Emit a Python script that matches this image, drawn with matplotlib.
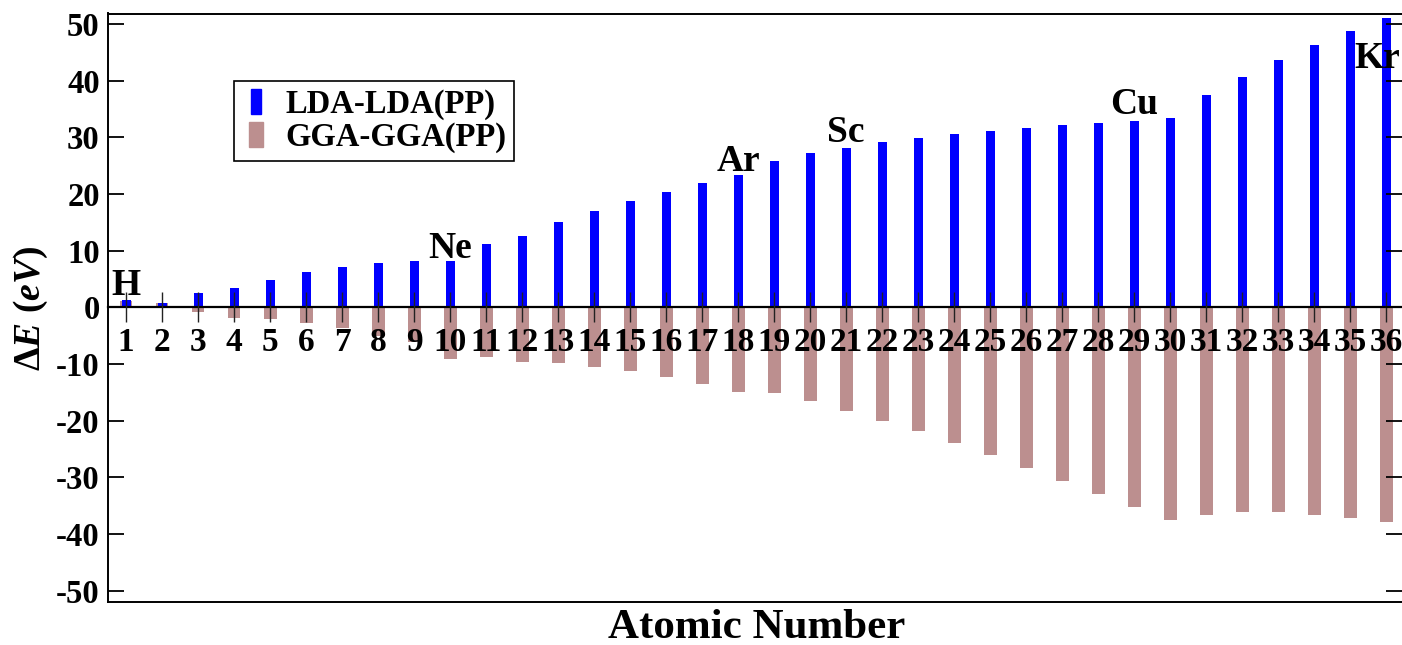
import matplotlib
matplotlib.use("Agg")
import matplotlib.pyplot as plt
from matplotlib.patches import Rectangle

plt.rcParams['font.family'] = ['Liberation Serif', 'DejaVu Serif']
plt.rcParams['font.weight'] = 'bold'
plt.rcParams['mathtext.fontset'] = 'custom'
plt.rcParams['mathtext.rm'] = 'Liberation Serif:bold'
plt.rcParams['mathtext.it'] = 'Liberation Serif:italic:bold'
plt.rcParams['mathtext.bf'] = 'Liberation Serif:bold'

atomic_numbers = list(range(1, 37))
lda_values = [1.3, 0.7, 2.6, 3.4, 4.9, 6.2, 7.2, 7.9, 8.2, 8.2,
              11.1, 12.6, 15.0, 17.0, 18.75, 20.4, 21.9, 23.3, 25.8, 27.3,
              28.2, 29.1, 29.9, 30.6, 31.1, 31.7, 32.1, 32.5, 32.9, 33.4,
              37.4, 40.7, 43.6, 46.3, 48.7, 51.1]
gga_values = [1.1, 0.8, -0.8, -1.8, -2.1, -2.7, -3.7, -5.0, -6.2, -9.2,
              -8.7, -9.7, -9.9, -10.5, -11.2, -12.3, -13.5, -14.9, -15.2, -16.5,
              -18.3, -20.1, -21.9, -24.0, -26.1, -28.3, -30.6, -32.9, -35.3, -37.6,
              -36.6, -36.2, -36.2, -36.6, -37.2, -37.8]
series_names = ['LDA-LDA(PP)', 'GGA-GGA(PP)']
element_names = ['H', 'Ne', 'Ar', 'Sc', 'Cu', 'Kr']
element_z = [1, 10, 18, 21, 29, 36]
element_label_y = [2.2, 8.7, 24.0, 29.2, 34.1, 42.2]
y_ticks = [-50, -40, -30, -20, -10, 0, 10, 20, 30, 40, 50]

blue = '#0000FF'
brown = '#BC8F8F'

fig = plt.figure(figsize=(14.02, 6.45), dpi=100)
ax = fig.add_axes([108/1402, 43/645, 1 - 108/1402, (602 - 13.5)/645])

ax.bar(atomic_numbers, gga_values, width=0.36, color=brown, zorder=1)
ax.bar(atomic_numbers, lda_values, width=0.25, color=blue, zorder=1.2)

ax.set_xlim(0.5, 36.44)
ax.set_ylim(-52, 51.85)

# x-axis at zero
ax.spines['bottom'].set_position(('data', 0))
ax.spines['bottom'].set_linewidth(1.6)
ax.spines['bottom'].set_zorder(5)
ax.spines['right'].set_visible(False)
ax.spines['left'].set_linewidth(1.4)
ax.spines['top'].set_linewidth(1.4)
# frame bottom line
ax.plot([0, 1], [0, 0], transform=ax.transAxes, color='black', lw=1.4, clip_on=False, zorder=5)

ax.set_xticks(atomic_numbers)
ax.set_xticklabels([str(z) for z in atomic_numbers])
ax.tick_params(axis='x', direction='inout', length=22, width=1.0, color='#222222',
               labelsize=24, pad=3)
ax.set_yticks(y_ticks)
ax.set_yticklabels([str(v) for v in y_ticks])
ax.tick_params(axis='y', direction='in', length=11.5, width=1.3, labelsize=23.5, pad=6,
               left=True, right=True)
for lbl in ax.get_xticklabels() + ax.get_yticklabels():
    lbl.set_fontweight('bold')
ax.xaxis.set_zorder(6)
ax.yaxis.set_zorder(6)

for name, z, ly in zip(element_names, element_z, element_label_y):
    dx = -0.25 if name == 'Kr' else 0
    ax.text(z + dx, ly, name, ha='center', va='baseline', fontsize=27,
            fontweight='bold', zorder=7)

fig.text(31/1402, 1 - 308/645, r'$\mathrm{\Delta}\mathit{E}\ (\mathit{eV})$', rotation=90,
         ha='center', va='center', fontsize=27)

fig.text((605 + 908) / 2 / 1402, 1 - 638/645, 'Atomic Number', ha='center', va='baseline',
         fontsize=31, fontweight='bold')

handles = [Rectangle((0, 0), 1, 1, color=blue), Rectangle((0, 0), 1, 1, color=brown)]
leg = ax.legend(handles, series_names, loc='upper left',
                bbox_to_anchor=((234 - 108) / (1402 - 108), (602 - 81) / (602 - 13.5)),
                fancybox=False, framealpha=1, edgecolor='black',
                prop={'weight': 'bold', 'size': 23.5}, handlelength=0.42, handleheight=0.8,
                handletextpad=0.9, borderpad=0.25, labelspacing=0.05, borderaxespad=0)
leg.get_frame().set_linewidth(1.2)
hs = leg.legend_handles
shift = 5
for h in hs:
    h.set_x(h.get_x() + shift)
w0 = hs[0].get_width()
hs[0].set_width(w0 * 0.7)
hs[0].set_x(hs[0].get_x() + w0 * 0.15)

fig.savefig('out.png', dpi=100)
